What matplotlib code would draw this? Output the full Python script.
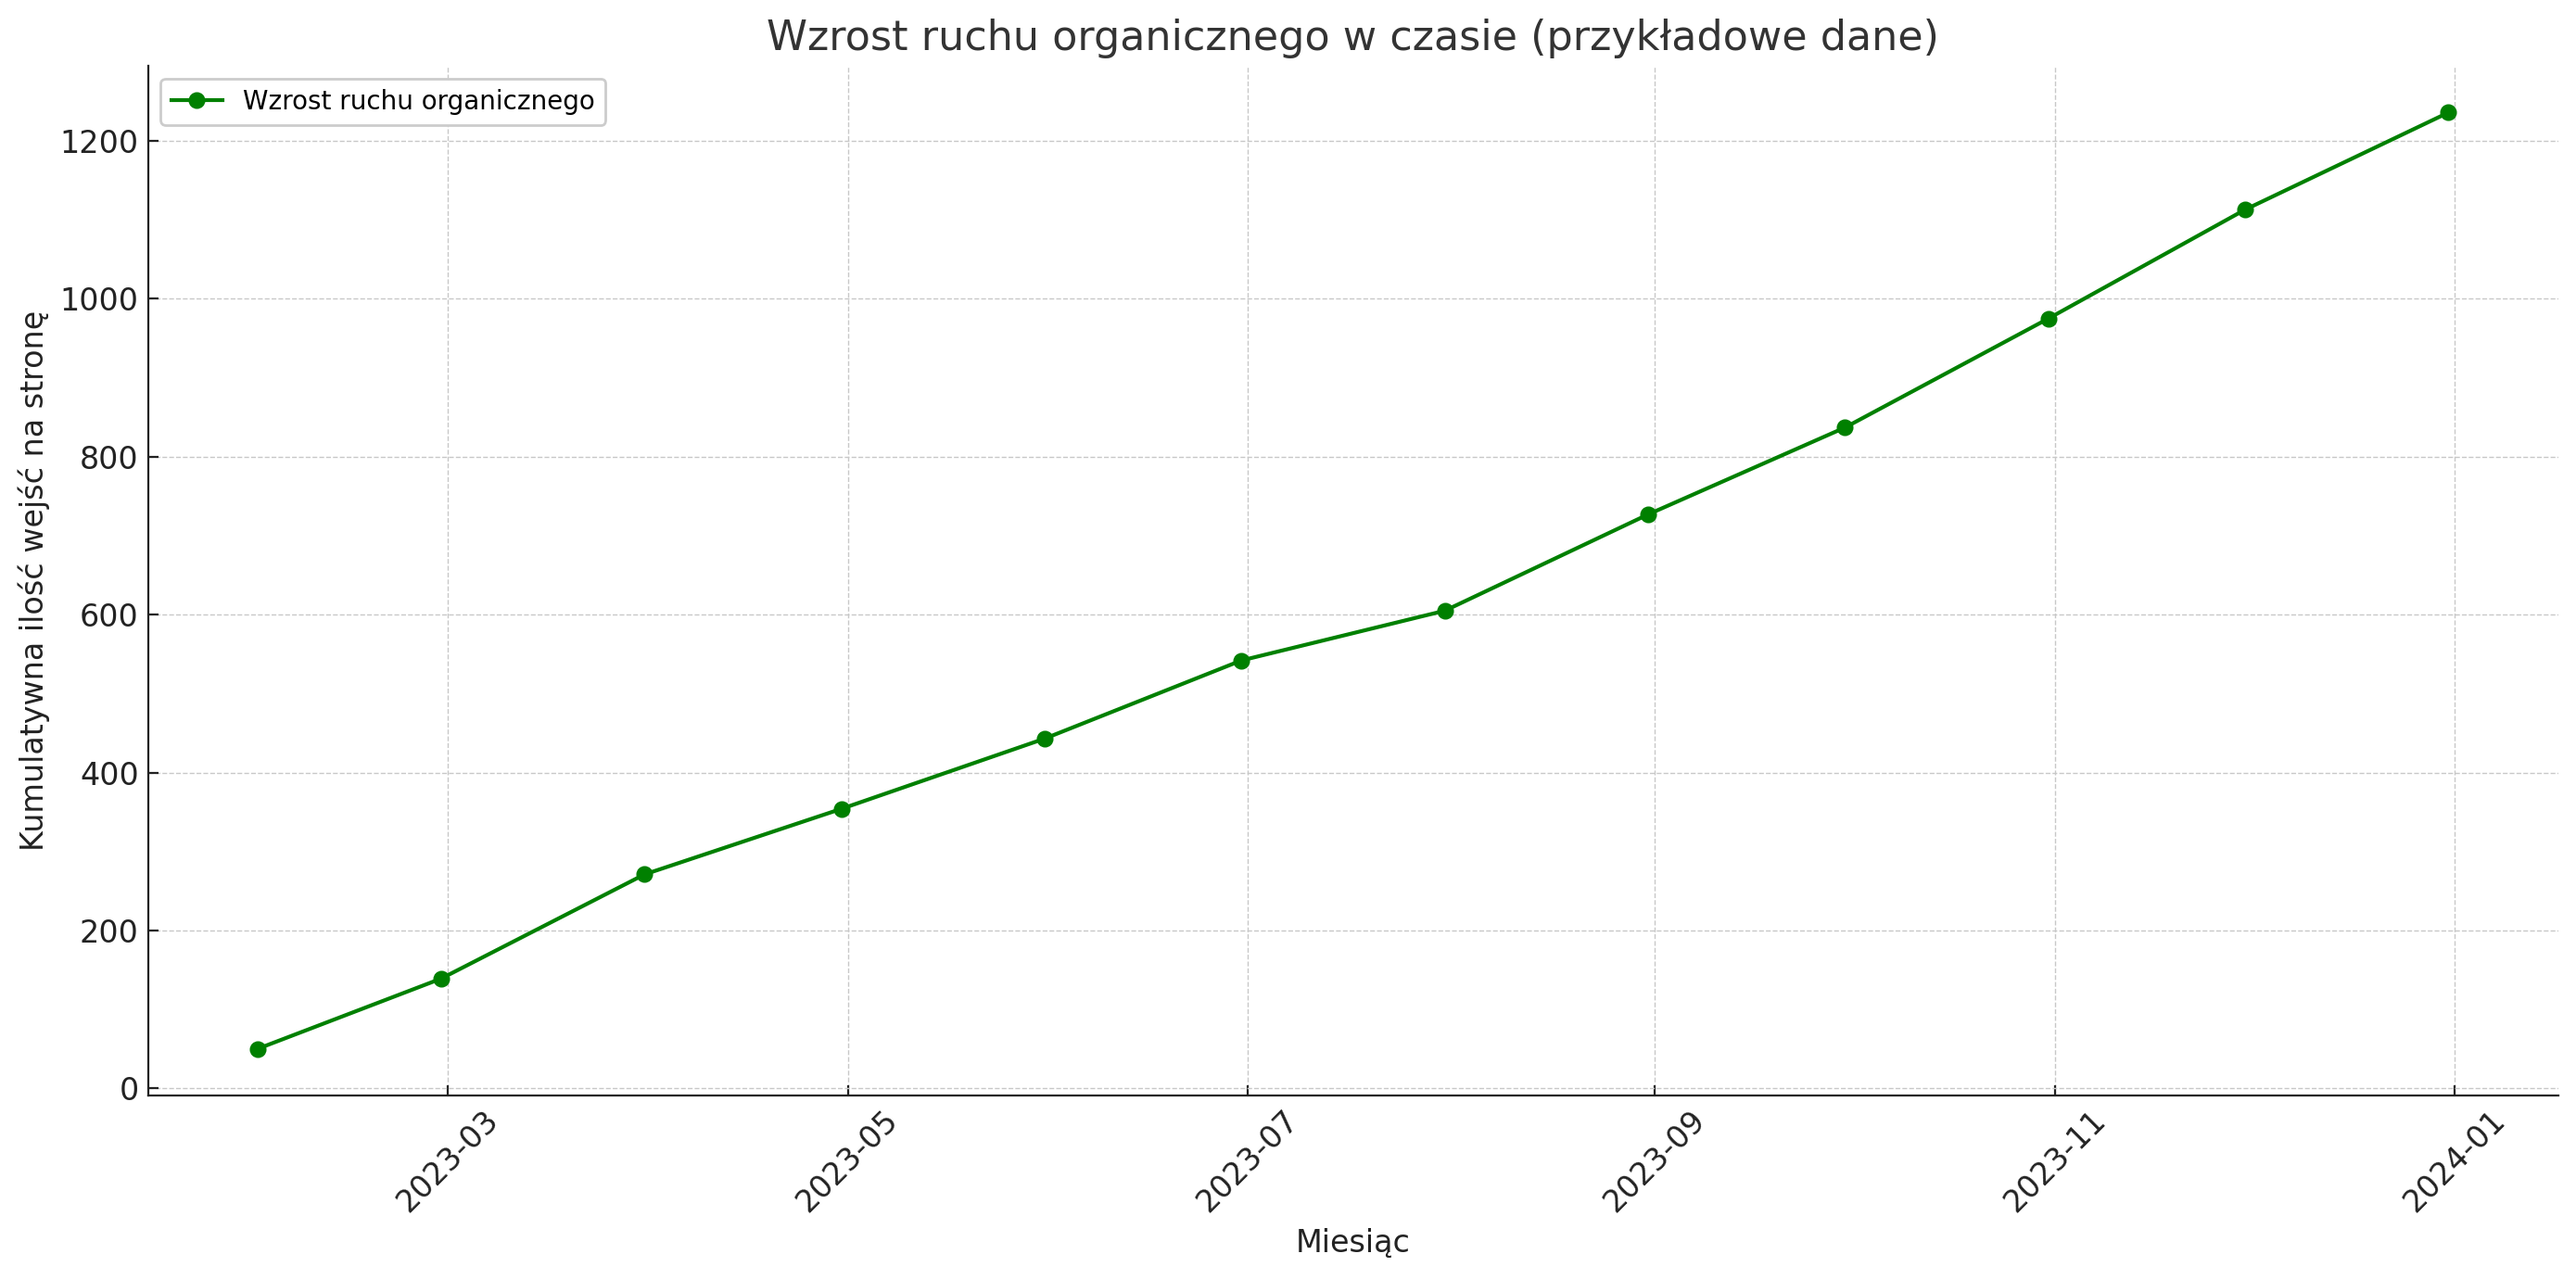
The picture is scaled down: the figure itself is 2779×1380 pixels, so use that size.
import matplotlib
matplotlib.use("Agg")
import matplotlib.pyplot as plt
import matplotlib.dates as mdates
import pandas as pd

months = pd.date_range("2023-01-01", periods=12, freq="ME")
traffic = [50, 139, 271, 354, 443, 542, 605, 727, 837, 975, 1113, 1236]

title = "Wzrost ruchu organicznego w czasie (przykładowe dane)"
xlabel = "Miesiąc"
ylabel = "Kumulatywna ilość wejść na stronę"
series_label = "Wzrost ruchu organicznego"

plt.rcParams['font.family'] = ['DejaVu Sans']
fig, ax = plt.subplots(figsize=(13.895, 6.9), dpi=200)
fig.subplots_adjust(left=0.0574, right=0.993, top=0.9486, bottom=0.1433)

ax.plot(months, traffic, marker='o', color='green', linewidth=1.5, markersize=5.5, label=series_label)
ax.set_title(title, fontsize=16, color='#333333')
ax.set_xlabel(xlabel, fontsize=12, color='#222222')
ax.set_ylabel(ylabel, fontsize=12, color='#222222')
ax.xaxis.set_major_locator(mdates.MonthLocator(bymonth=[1, 3, 5, 7, 9, 11]))
ax.xaxis.set_major_formatter(mdates.DateFormatter('%Y-%m'))
ax.tick_params(axis='both', labelsize=12, direction='in', length=4, colors='#222222')
plt.setp(ax.get_xticklabels(), rotation=45)
ax.grid(True, linestyle='--', linewidth=0.5, color='#c8c8c8')
ax.spines['top'].set_visible(False)
ax.spines['right'].set_visible(False)
ax.spines['left'].set_color('#222222')
ax.spines['bottom'].set_color('#222222')
ax.legend(loc='upper left', fontsize=10, framealpha=1, edgecolor='#cccccc')

fig.savefig("out.png", dpi=200)
